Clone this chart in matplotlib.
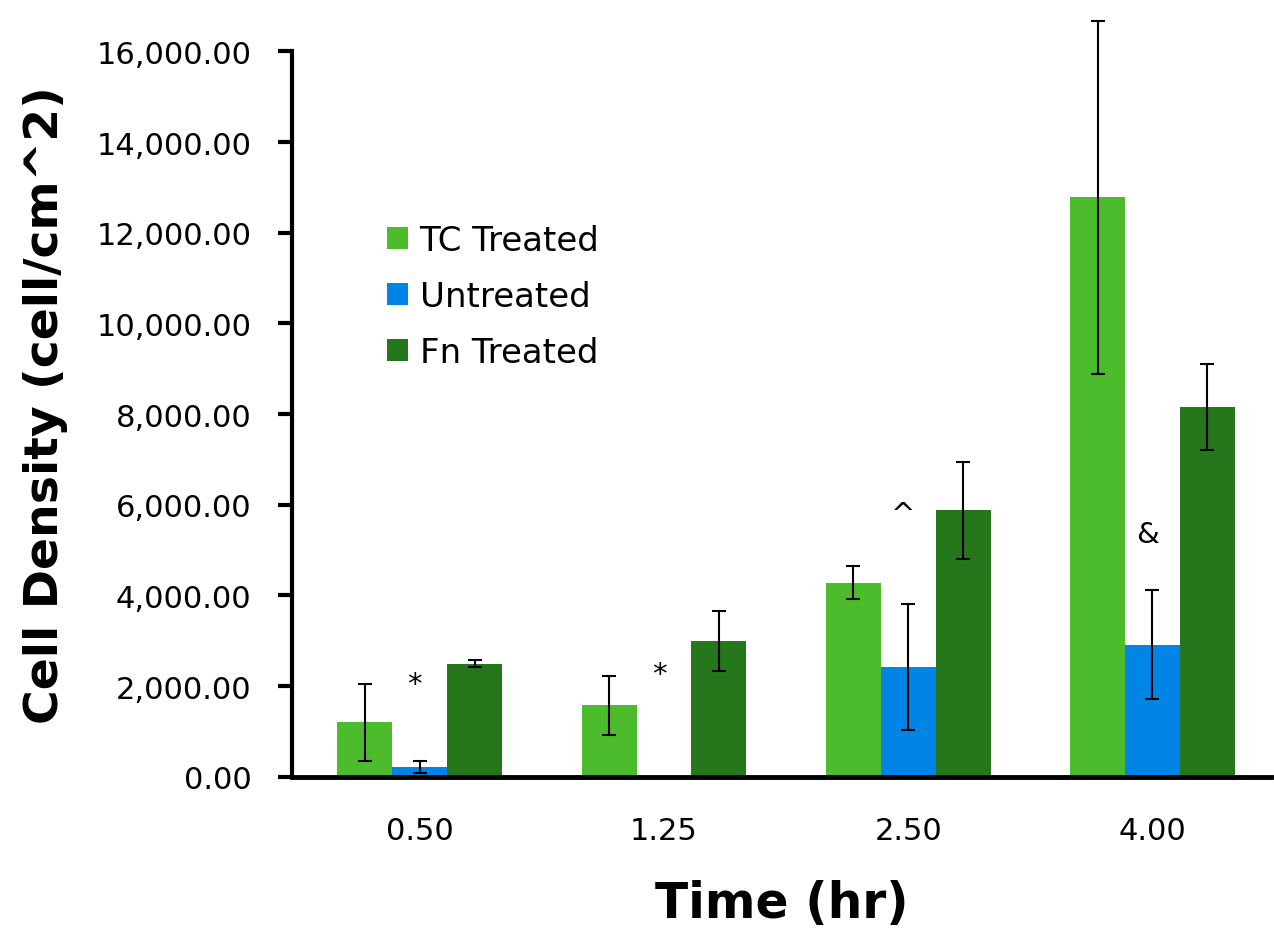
import numpy as np
import matplotlib.pyplot as plt
from matplotlib.ticker import FuncFormatter

# Values
times = ['0.50', '1.25', '2.50', '4.00']
tc_treated = [1200, 1580, 4280, 12780]
tc_err = [850, 650, 360, 3900]
untreated = [220, 0, 2420, 2910]
untreated_err = [130, 0, 1390, 1200]
fn_treated = [2490, 3000, 5880, 8160]
fn_err = [80, 660, 1070, 950]
marks = ['*', '*', '^', '&']
mark_y = [2050, 2270, 5800, 5360]

colors = ['#4CBB2C', '#0084E6', '#26761B']

fig = plt.figure(figsize=(12.74, 9.37), dpi=100)
ax = fig.add_axes([0.229, 0.170, 0.769, 0.774])

x = np.arange(len(times))
w = 0.225
err_kw = dict(ecolor='black', elinewidth=1.5, capsize=5, capthick=1.5, clip_on=False)

ax.bar(x - w, tc_treated, w, yerr=tc_err, color=colors[0], label='TC Treated', error_kw=err_kw)
ax.bar(x[[0, 2, 3]], np.array(untreated)[[0, 2, 3]], w, yerr=np.array(untreated_err)[[0, 2, 3]],
       color=colors[1], label='Untreated', error_kw=err_kw)
ax.bar(x + w, fn_treated, w, yerr=fn_err, color=colors[2], label='Fn Treated', error_kw=err_kw)

for xi, m, my in zip(x, marks, mark_y):
    ax.text(xi - 0.02, my, m, ha='center', va='center', fontsize=21)

ax.set_xlim(-0.524, 3.487)
ax.set_ylim(0, 16000)
ax.set_yticks(np.arange(0, 16001, 2000))
ax.yaxis.set_major_formatter(FuncFormatter(lambda v, p: f'{v:,.2f}'))
ax.set_xticks(x)
ax.set_xticklabels(times)
ax.tick_params(axis='y', length=10, width=3, labelsize=22, pad=19)
ax.tick_params(axis='x', length=0, labelsize=22, pad=28)

for s in ['top', 'right']:
    ax.spines[s].set_visible(False)
ax.spines['bottom'].set_linewidth(3.5)
ax.spines['left'].set_linewidth(3)

ax.set_xlabel('Time (hr)', fontsize=35, fontweight='bold', labelpad=25)
ax.set_ylabel('Cell Density (cell/cm^2)', fontsize=34, fontweight='bold')
ax.yaxis.set_label_coords(-0.228, 0.514)

ax.legend(loc='upper left', bbox_to_anchor=(0.304, 0.760), bbox_transform=fig.transFigure,
          frameon=False, fontsize=24.5, handlelength=0.6, handleheight=0.6,
          handletextpad=0.35, labelspacing=0.68, borderpad=0, borderaxespad=0)

fig.savefig('out.png', dpi=100)
